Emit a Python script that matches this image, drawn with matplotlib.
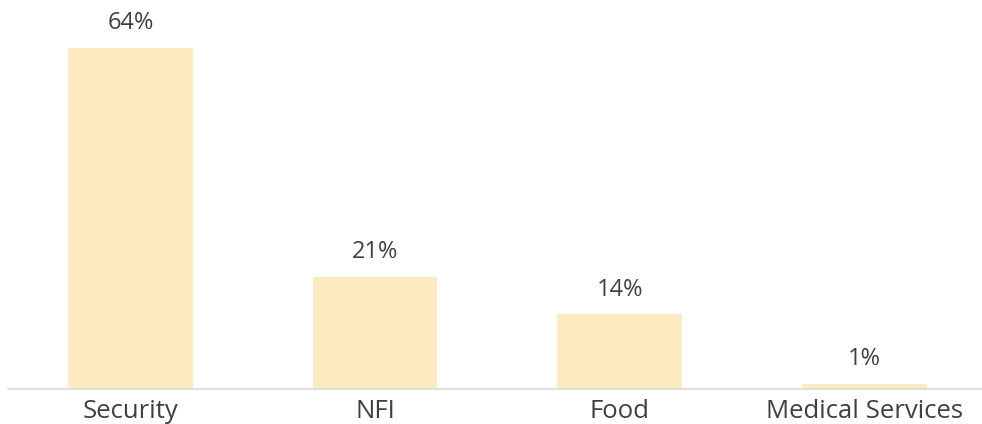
import matplotlib
matplotlib.use("Agg")
import matplotlib.pyplot as plt

categories = ["Security", "NFI", "Food", "Medical Services"]
values = [64, 21, 14, 1]
labels = ["64%", "21%", "14%", "1%"]

plt.rcParams['font.family'] = ['Open Sans', 'DejaVu Sans']

fig = plt.figure(figsize=(9.82, 4.24), dpi=100)
ax = fig.add_axes([8/982, 35/424, 974/982, 389/424])
x = range(len(categories))
bars = ax.bar(x, values, width=0.51, color="#FCEBC0", zorder=2)
for xi, v, lab in zip(x, values, labels):
    ax.text(xi, v + 2.4, lab, ha="center", va="bottom", fontsize=17, color="#404040")
ax.set_xlim(-0.5, 3.48)
ax.set_ylim(0, 73)
ax.set_xticks(list(x))
ax.set_xticklabels(categories, fontsize=18.5, color="#404040")
ax.tick_params(axis="x", length=0, pad=7)
ax.set_yticks([])
for s in ["top", "right", "left"]:
    ax.spines[s].set_visible(False)
ax.spines["bottom"].set_color("#D9D9D9")
ax.spines["bottom"].set_linewidth(1.2)
fig.savefig("out.png", dpi=100)
